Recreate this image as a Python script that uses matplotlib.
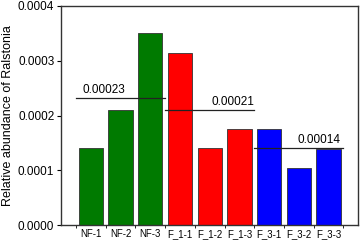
import matplotlib
matplotlib.use("Agg")
import matplotlib.pyplot as plt
import numpy as np

plt.rcParams["font.family"] = ["Liberation Sans", "DejaVu Sans"]

samples = ["NF-1", "NF-2", "NF-3", "F_1-1", "F_1-2", "F_1-3", "F_3-1", "F_3-2", "F_3-3"]
abundance = [0.000140, 0.000210, 0.000350, 0.000315, 0.000140, 0.000175, 0.000175, 0.000105, 0.000138]
bar_colors = ["#007a00"] * 3 + ["#ff0000"] * 3 + ["#0000ff"] * 3

group_means = [0.000232, 0.000210, 0.000140]
group_labels = ["0.00023", "0.00021", "0.00014"]
group_spans = [(-0.5, 2.5), (2.5, 5.5), (5.5, 8.5)]
label_x = [-0.27, 4.05, 6.96]

fig = plt.figure(figsize=(3.6, 2.4), dpi=100)
ax = fig.add_axes([0.170, 0.0625, 0.825, 0.9125])

x = np.arange(len(samples))
ax.bar(x, abundance, width=0.82, color=bar_colors, edgecolor="#333333", linewidth=0.6)

for mean, text, (x0, x1), lx in zip(group_means, group_labels, group_spans, label_x):
    ax.plot([x0, x1], [mean, mean], color="#222222", linewidth=0.9)
    ax.text(lx, mean + 0.000004, text, fontsize=8.5, ha="left", va="bottom")

ax.set_xlim(-1, 9)
ax.set_ylim(0, 0.0004)
ax.set_yticks([0, 0.0001, 0.0002, 0.0003, 0.0004])
ax.set_yticklabels(["0.0000", "0.0001", "0.0002", "0.0003", "0.0004"], fontsize=8.5)
ax.set_xticks(x)
ax.set_xticklabels(samples, fontsize=7)
ax.tick_params(axis="x", length=0, pad=3)
ax.set_xticks(np.arange(-0.5, 9, 1), minor=True)
ax.tick_params(axis="x", which="minor", length=2, width=0.6)
ax.tick_params(axis="y", length=3, width=0.8, pad=2)
ax.set_ylabel("Relative abundance of Ralstonia", fontsize=9, labelpad=3)

for s in ax.spines.values():
    s.set_linewidth(1.0)
    s.set_color("#333333")

fig.savefig("out.png", dpi=100)
